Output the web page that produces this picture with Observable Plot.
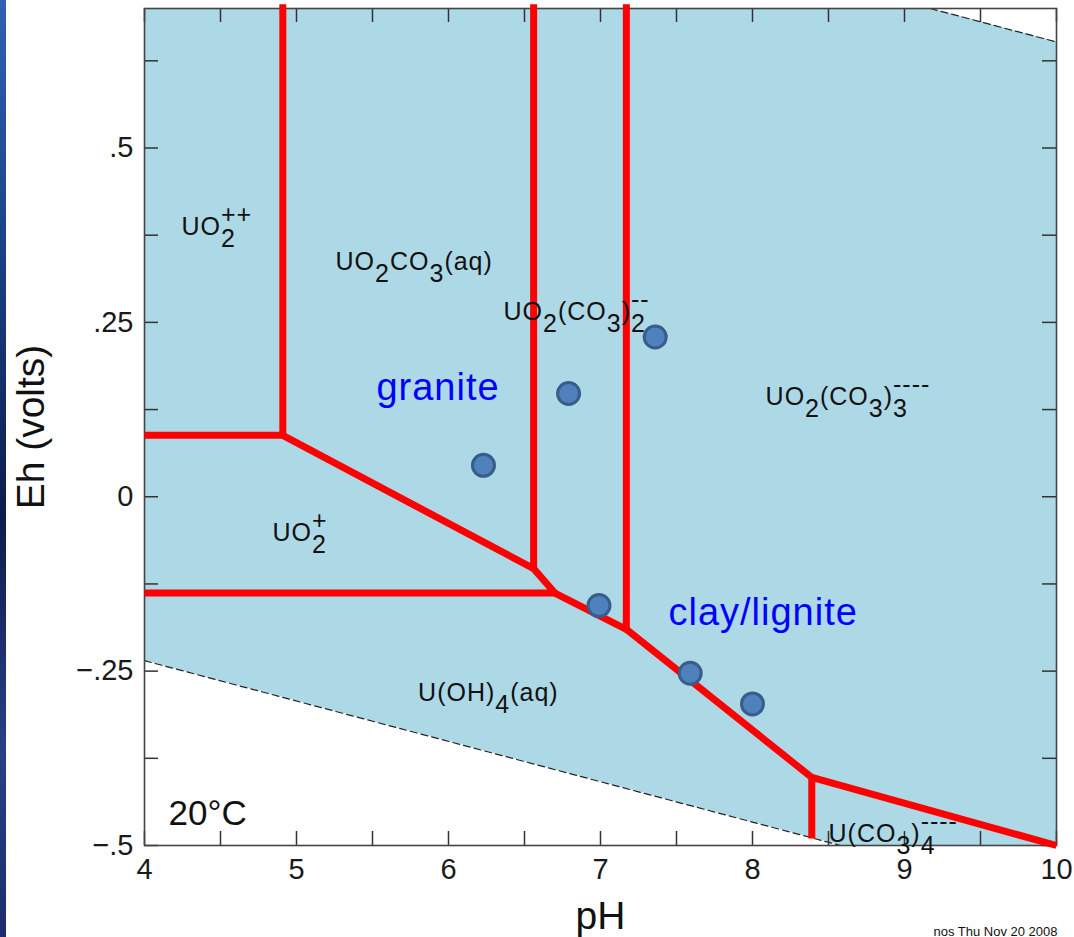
<!DOCTYPE html>
<html>
<head>
<meta charset="utf-8">
<script src="https://cdn.jsdelivr.net/npm/d3@7"></script>
<script src="https://cdn.jsdelivr.net/npm/@observablehq/plot@0.6"></script>
<style>
  html, body { margin: 0; padding: 0; background: #fff; overflow: hidden; }
  #wrap { position: relative; width: 1074px; height: 937px; }
  #strip { position: absolute; left: 0; top: 0; width: 6px; height: 937px;
    background: linear-gradient(to bottom, #2f62b3 0%, #1c438c 25%, #0c1c4a 55%, #2b3f88 80%, #1b2d6a 100%); z-index: 2; }
  #chart { position: absolute; left: 0; top: 0; }
</style>
</head>
<body>
<div id="wrap"><div id="strip"></div><div id="chart"></div></div>
<script>
// ---- data ----
const xLabelTicks = [4, 5, 6, 7, 8, 9, 10];
const xMinorTicks = [4, 4.5, 5, 5.5, 6, 6.5, 7, 7.5, 8, 8.5, 9, 9.5, 10];
const yLabelTicks = [-0.5, -0.25, 0, 0.25, 0.5];
const yTickLabels = ["\u2212.5", "\u2212.25", "0", ".25", ".5"];
const yMinorTicks = [-0.5, -0.375, -0.25, -0.125, 0, 0.125, 0.25, 0.375, 0.5, 0.625];

// water stability field
const waterPH = [4, 8.58, 9.17, 10];
const waterTopEh = [0.70, 0.70, 0.70, 0.652];
const waterBotEh = [-0.235, -0.5, -0.5, -0.5];
const o2LinePH = [9.17, 10];
const o2LineEh = [0.70, 0.652];
const h2LinePH = [4, 8.58];
const h2LineEh = [-0.235, -0.5];

// predominance boundaries, [pH, Eh] polylines
const boundaryLines = [
  [[4.00, 0.088], [4.91, 0.088], [4.91, 0.706]],
  [[4.91, 0.088], [6.56, -0.103], [6.56, 0.706]],
  [[4.00, -0.138], [6.70, -0.138], [6.56, -0.103]],
  [[6.70, -0.138], [7.17, -0.190], [7.17, 0.706]],
  [[7.17, -0.190], [8.39, -0.4025], [8.39, -0.490]],
  [[8.39, -0.4025], [10.0, -0.500]]
];

// sample points
const samplePH = [6.23, 6.79, 7.36, 6.99, 7.59, 8.00];
const sampleEh = [0.045, 0.148, 0.229, -0.156, -0.253, -0.297];

// species labels (markup: _{sub} ^{sup})
const speciesText = ["UO_{2}^{++}", "UO_{2}CO_{3}(aq)", "UO_{2}(CO_{3})_{2}^{--}", "UO_{2}(CO_{3})_{3}^{----}",
                     "UO_{2}^{+}", "U(OH)_{4}(aq)", "U(CO_{3})_{4}^{----}"];
const speciesPH = [4.243, 5.257, 6.362, 8.086, 4.842, 5.80, 8.50];
const speciesEh = [0.375, 0.325, 0.254, 0.131, -0.064, -0.2935, -0.4956];

const rockText = ["granite", "clay/lignite"];
const rockPH = [5.526, 7.447];
const rockEh = [0.138, -0.1845];

const tempText = ["20\u00b0C"];
const tempPH = [4.158];
const tempEh = [-0.470];

// ---- layout ----
const W = 1074, H = 937, ML = 144, MR = 18, MT = 8, MB = 92, TICK = 14;
const innerW = W - ML - MR, innerH = H - MT - MB;
const FONT = "'Liberation Sans', Arial, Helvetica, sans-serif";

const water = waterPH.map((x, i) => ({x, lo: waterBotEh[i], hi: waterTopEh[i]}));
const o2 = o2LinePH.map((x, i) => ({x, y: o2LineEh[i]}));
const h2 = h2LinePH.map((x, i) => ({x, y: h2LineEh[i]}));
const bnd = boundaryLines.flatMap((line, k) => line.map(([x, y]) => ({k, x, y})));
const samples = samplePH.map((x, i) => ({x, y: sampleEh[i]}));
const species = speciesText.map((t, i) => ({t, x: speciesPH[i], y: speciesEh[i]}));
const rocks = rockText.map((t, i) => ({t, x: rockPH[i], y: rockEh[i]}));
const temps = tempText.map((t, i) => ({t, x: tempPH[i], y: tempEh[i]}));

const plot = Plot.plot({
  width: W, height: H,
  marginLeft: ML, marginRight: MR, marginTop: MT, marginBottom: MB,
  style: {fontFamily: FONT, fontSize: "29px", color: "#1a1a1a", background: "transparent"},
  x: {domain: [4, 10], ticks: xLabelTicks, tickSize: 0, tickPadding: 13, label: null, tickFormat: d => String(d)},
  y: {domain: [-0.5, 0.7], ticks: yLabelTicks, tickSize: 0, tickPadding: 11, label: null,
      tickFormat: d => yTickLabels[yLabelTicks.indexOf(d)]},
  marks: [
    Plot.areaY(water, {x: "x", y1: "lo", y2: "hi", fill: "#add8e6"}),
    Plot.line(o2, {x: "x", y: "y", stroke: "#222", strokeWidth: 1.2, strokeDasharray: "7,4"}),
    Plot.line(h2, {x: "x", y: "y", stroke: "#222", strokeWidth: 1.2, strokeDasharray: "7,4"}),
    Plot.ruleY(yMinorTicks, {y: d => d, insetRight: innerW - TICK, stroke: "#333", strokeWidth: 1.5}),
    Plot.ruleY(yMinorTicks, {y: d => d, insetLeft: innerW - TICK, stroke: "#333", strokeWidth: 1.5}),
    Plot.ruleX(xMinorTicks, {x: d => d, insetTop: innerH - TICK, stroke: "#333", strokeWidth: 1.5}),
    Plot.ruleX(xMinorTicks, {x: d => d, insetBottom: innerH - TICK, stroke: "#333", strokeWidth: 1.5}),
    Plot.frame({stroke: "#444", strokeWidth: 1.6}),
    Plot.line(bnd, {x: "x", y: "y", z: "k", stroke: "#ff0000", strokeWidth: 7, strokeLinejoin: "round", strokeLinecap: "butt"}),
    Plot.dot(samples, {x: "x", y: "y", r: 11, fill: "#4f81bd", stroke: "#385d8a", strokeWidth: 3}),
    Plot.text(species, {x: "x", y: "y", text: "t", textAnchor: "start", lineAnchor: "bottom", fontSize: 25, fill: "#111"}),
    Plot.text(rocks, {x: "x", y: "y", text: "t", textAnchor: "start", lineAnchor: "bottom", fontSize: 38, fill: "#0000ff"}),
    Plot.text(temps, {x: "x", y: "y", text: "t", textAnchor: "start", lineAnchor: "bottom", fontSize: 35, fill: "#111"}),
    Plot.text(["pH"], {text: d => d, frameAnchor: "bottom", dy: 83, lineAnchor: "bottom", fontSize: 39, fill: "#111"}),
    Plot.text(["Eh (volts)"], {text: d => d, frameAnchor: "left", dx: -101, rotate: -90, lineAnchor: "bottom", textAnchor: "middle", fontSize: 39, fill: "#111"}),
    Plot.text(["nos Thu Nov 20 2008"], {text: d => d, frameAnchor: "bottom-right", dy: 90, dx: 1, textAnchor: "end", lineAnchor: "bottom", fontSize: 13, fill: "#111"})
  ]
});
document.getElementById("chart").append(plot);

// rich text: turn _{..} / ^{..} markup into sub/superscript tspans
(function richify(svg) {
  const NS = "http://www.w3.org/2000/svg";
  const SUB = 12, SUP = 12;
  const re = /(_\{[^}]*\}|\^\{[^}]*\}|[^_^]+)/g;
  svg.querySelectorAll("text").forEach(el => {
    const s = el.textContent;
    if (rockText.includes(s)) { el.style.letterSpacing = "1px"; return; }
    if (!/[_^]\{/.test(s)) return;
    const tokens = s.match(re);
    el.textContent = "";
    el.style.letterSpacing = "1px";
    let offset = 0, prevSub = null;
    for (const tok of tokens) {
      let kind = "n", txt = tok;
      if (tok.startsWith("_{")) { kind = "sub"; txt = tok.slice(2, -1); }
      else if (tok.startsWith("^{")) { kind = "sup"; txt = tok.slice(2, -1); }
      const target = kind === "sub" ? SUB : kind === "sup" ? -SUP : 0;
      const ts = document.createElementNS(NS, "tspan");
      ts.textContent = txt;
      if (target - offset) ts.setAttribute("dy", target - offset);
      el.appendChild(ts);
      if (kind === "sup" && prevSub) ts.setAttribute("dx", -prevSub.getComputedTextLength());
      offset = target;
      prevSub = kind === "sub" ? ts : null;
    }
  });
})(plot);
</script>
</body>
</html>
